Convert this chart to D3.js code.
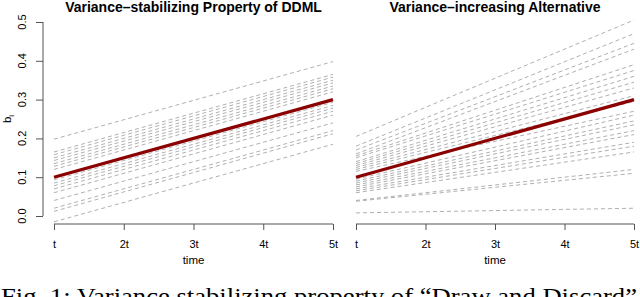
<!DOCTYPE html>
<html>
<head>
<meta charset="utf-8">
<script src="https://cdn.jsdelivr.net/npm/d3@7"></script>
<style>
	body { margin: 0; background: #fff; }
	svg { display: block; }
	.tick-label, .title, .axis-name { font-family: "Liberation Sans", Arial, sans-serif; fill: #000; }
</style>
</head>
<body>
<svg id="chart" width="640" height="297"></svg>
<script>
	var times = [1, 2, 3, 4, 5],
		timeLabels = ["t", "2t", "3t", "4t", "5t"],
		yTicks = [0.0, 0.1, 0.2, 0.3, 0.4, 0.5];

	// red mean line, same in both panels
	var meanStart = 0.1,
		meanEnd = 0.3;

	// left panel: parallel lines (value at t, value at 5t)
	var leftStart = [0.198, 0.165, 0.158, 0.15, 0.143, 0.135, 0.128, 0.12,
		0.093, 0.085, 0.078, 0.07, 0.06, 0.04, 0.02, 0.012, -0.015];
	var leftEnd = [0.398, 0.365, 0.358, 0.35, 0.343, 0.335, 0.328, 0.32,
		0.293, 0.285, 0.278, 0.27, 0.26, 0.24, 0.22, 0.212, 0.185];

	// right panel: fanning lines
	var rightStart = [0.205, 0.18, 0.17, 0.16, 0.155, 0.15, 0.14, 0.135, 0.13, 0.125, 0.12, 0.115,
		0.095, 0.09, 0.085, 0.08, 0.075, 0.07, 0.065, 0.06, 0.04, 0.038, 0.008];
	var rightEnd = [0.505, 0.47, 0.445, 0.43, 0.39, 0.375, 0.36, 0.345, 0.33, 0.31, 0.295, 0.27,
		0.26, 0.245, 0.235, 0.22, 0.21, 0.19, 0.18, 0.165, 0.12, 0.11, 0.02];

	var titles = ["Variance\u2013stabilizing Property of DDML", "Variance\u2013increasing Alternative"];

	var svg = d3.select("#chart");

	var y = d3.scaleLinear().domain([0, 0.5]).range([216, 22]);

	var panels = [
		{ x: d3.scaleLinear().domain([1, 5]).range([54, 333]), start: leftStart, end: leftEnd, title: titles[0], yAxis: true },
		{ x: d3.scaleLinear().domain([1, 5]).range([356, 634]), start: rightStart, end: rightEnd, title: titles[1], yAxis: false }
	];

	panels.forEach(function(p) {
		var g = svg.append("g");
		var line = d3.line()
			.x(function(d) { return p.x(d[0]); })
			.y(function(d) { return y(d[1]); });

		var t0 = times[0], t1 = times[times.length - 1];

		g.selectAll("path.sim")
			.data(p.start.map(function(s, i) { return [[t0, s], [t1, p.end[i]]]; }))
			.enter()
			.append("path")
			.attr("class", "sim")
			.attr("d", line)
			.attr("fill", "none")
			.attr("stroke", "#b0b0b0")
			.attr("stroke-width", 1)
			.attr("stroke-dasharray", "4,3");

		g.append("path")
			.attr("d", line([[t0, meanStart], [t1, meanEnd]]))
			.attr("fill", "none")
			.attr("stroke", "#8b0000")
			.attr("stroke-width", 3.2);

		// x axis
		var xAxis = d3.axisBottom(p.x)
			.tickValues(times)
			.tickFormat(function(d, i) { return timeLabels[i]; })
			.tickSize(6)
			.tickPadding(10);
		var ax = g.append("g")
			.attr("transform", "translate(0,224)")
			.call(xAxis);
		ax.select(".domain").attr("stroke", "#555").attr("d", "M" + p.x(t0) + ",0H" + p.x(t1));
		ax.selectAll(".tick line").attr("stroke", "#555");
		ax.selectAll(".tick text")
			.attr("class", "tick-label")
			.style("font-size", "11px")
			.style("font-family", "Liberation Sans, Arial, sans-serif");

		g.append("text")
			.attr("class", "axis-name")
			.attr("x", p.x(3))
			.attr("y", 264)
			.attr("text-anchor", "middle")
			.style("font-size", "11.5px")
			.text("time");

		g.append("text")
			.attr("class", "title")
			.attr("x", (p.x(t0) + p.x(t1)) / 2)
			.attr("y", 12)
			.attr("text-anchor", "middle")
			.style("font-size", "14px")
			.style("font-weight", "bold")
			.text(p.title);

		if (p.yAxis) {
			var yAxis = d3.axisLeft(y)
				.tickValues(yTicks)
				.tickFormat("")
				.tickSize(7);
			var ay = g.append("g")
				.attr("transform", "translate(43,0)")
				.call(yAxis);
			ay.select(".domain").attr("stroke", "#555").attr("d", "M0," + y(0) + "V" + y(0.5));
			ay.selectAll(".tick line").attr("stroke", "#555");

			g.selectAll("text.ylab")
				.data(yTicks)
				.enter()
				.append("text")
				.attr("class", "tick-label ylab")
				.attr("transform", function(d) { return "translate(22," + y(d) + ") rotate(-90)"; })
				.attr("text-anchor", "middle")
				.attr("dominant-baseline", "central")
				.style("font-size", "11px")
				.text(d3.format(".1f"));

			var lab = g.append("text")
				.attr("class", "axis-name")
				.attr("transform", "translate(11,119) rotate(-90)")
				.attr("text-anchor", "middle")
				.style("font-size", "11.5px");
			lab.append("tspan").text("b");
			lab.append("tspan").attr("dy", 3).style("font-size", "8px").text("i");
		}
	});

	// figure caption, cut at the bottom edge as in the source figure
	svg.append("text")
		.attr("x", 1)
		.attr("y", 304)
		.attr("textLength", 636)
		.attr("lengthAdjust", "spacingAndGlyphs")
		.style("font-family", "Liberation Serif, Times New Roman, serif")
		.style("font-size", "24px")
		.text("Fig. 1: Variance stabilizing property of \u201cDraw and Discard\u201d");
</script>
</body>
</html>
